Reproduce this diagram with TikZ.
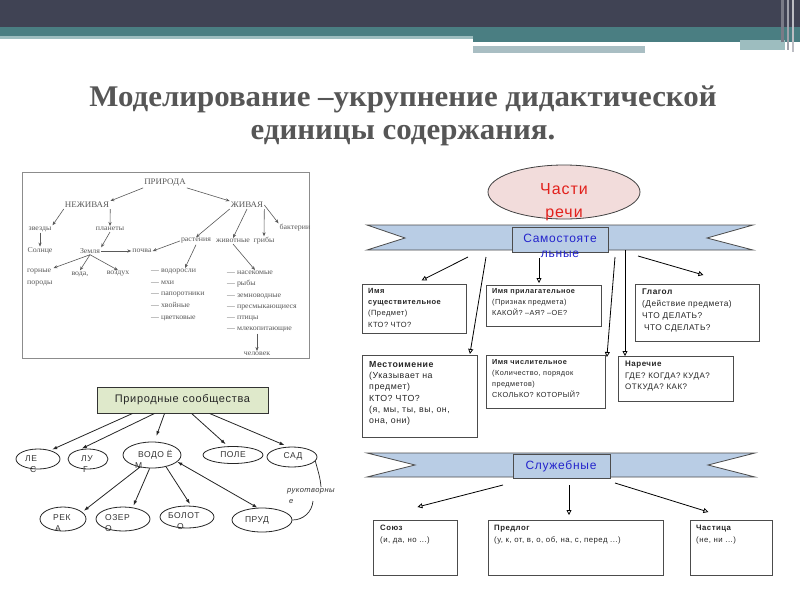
\documentclass[tikz,border=0pt]{standalone}
\usepackage{fontspec}
\setmainfont{Liberation Serif}
\newfontfamily\arl[LetterSpace=6]{Liberation Sans}
\newfontfamily\tms[FakeStretch=1.05]{Liberation Serif}
\newfontfamily\ttl[FakeStretch=1.03]{Liberation Serif}
\usetikzlibrary{arrows.meta,shapes.geometric,calc}
\definecolor{hdark}{HTML}{404354}
\definecolor{hteal}{HTML}{4A7E82}
\definecolor{hlight}{HTML}{9DBDBF}
\definecolor{hgray}{HTML}{A9BEC3}
\definecolor{ribbonc}{HTML}{B9CDE5}
\definecolor{pinkf}{HTML}{F2DCDB}
\definecolor{greenf}{HTML}{DFE9CB}
\definecolor{bluet}{HTML}{2424CC}
\definecolor{redt}{HTML}{E2211C}
\definecolor{treeg}{HTML}{5A5A5A}
\definecolor{titleg}{HTML}{565656}
\begin{document}
\begin{tikzpicture}[x=1pt,y=-1pt,
  tr/.style={font=\tms\fontsize{7.5}{11.6}\selectfont, text=treeg, inner sep=1pt},
  trc/.style={font=\tms\fontsize{8.5}{9}\selectfont, text=treeg, inner sep=1pt},
  tarr/.style={draw=treeg, line width=0.6pt, -{Stealth[length=4pt,width=3.2pt]}},
  ell/.style={ellipse, draw=black!85, line width=0.8pt, inner sep=0pt},
  etx/.style={font=\arl\fontsize{8.5}{11}\selectfont, text=black!80, align=left, inner sep=0pt, anchor=north west},
  etc/.style={font=\arl\fontsize{8.5}{11}\selectfont, text=black!80, inner sep=0pt},
  barr/.style={draw=black!85, line width=0.8pt, -{Latex[length=5pt,width=3.5pt]}},
  bx/.style={draw=black!70, line width=0.9pt, anchor=north west, inner sep=0pt},
  btx/.style={text=black!85, align=left, inner sep=0pt, anchor=north west},
  oarr/.style={draw=black, line width=0.8pt, -{Triangle[open,length=5pt,width=5pt]}},
  rib/.style={fill=ribbonc, draw=black!70, line width=0.8pt}
]
\useasboundingbox (0,0) rectangle (800,600);
\fill[white] (0,0) rectangle (800,600);
% header
\fill[hdark] (0,0) rectangle (800,27);
\fill[hteal] (0,27) rectangle (800,36);
\fill[hteal] (473,36) rectangle (800,42);
\fill[hlight] (0,36) rectangle (473,39);
\fill[hgray] (473,46) rectangle (645,53);
\fill[hlight] (740,40) rectangle (785,50);
\fill[hdark!70!white] (781,0) rectangle (784,42);
\fill[hdark!50!white] (787,0) rectangle (789,50);
\fill[hdark!35!white] (792,0) rectangle (794,52);
% title
\node[font=\ttl\bfseries\fontsize{30}{33}\selectfont, text=titleg, align=center, inner sep=0pt] (title) at (403,116) {Моделирование –укрупнение дидактической\\единицы содержания.};

% ---------- tree (top-left)
\draw[draw=black!45, line width=0.8pt] (22,172) rectangle (309,358);
\node[trc] (P) at (165,183) {ПРИРОДА};
\node[trc] (N) at (87,205) {НЕЖИВАЯ};
\node[trc] (Zh) at (247,205) {ЖИВАЯ};
\node[tr] (zv) at (40,229) {звезды};
\node[tr] (pl) at (110,229) {планеты};
\node[tr] (sol) at (40,251) {Солнце};
\node[tr] (zem) at (90,251) {Земля};
\node[tr] (poch) at (142,251) {почва};
\node[tr] (bak) at (295,228) {бактерии};
\node[tr] (rast) at (196,241) {растения};
\node[tr] (zhiv) at (233,241) {животные};
\node[tr] (grib) at (264,241) {грибы};
\node[tr, align=left, anchor=north west] (gor) at (26,268) {горные\\породы};
\node[tr] (voda) at (80,274) {вода,};
\node[tr] (vozd) at (118,274) {воздух};
\node[tr, align=left, anchor=north west] (plants) at (150,268) {— водоросли\\— мхи\\— папоротники\\— хвойные\\— цветковые};
\node[tr, align=left, anchor=north west, font=\tms\fontsize{7.5}{11.2}\selectfont] (anim) at (226,270) {— насекомые\\— рыбы\\— земноводные\\— пресмыкающиеся\\— птицы\\— млекопитающие};
\node[tr] (chel) at (257,354) {человек};
\draw[tarr] (P.south west) -- (N.north east);
\draw[tarr] (P.south east) -- (Zh.north west);
\draw[tarr] (N.south west) -- (zv.north east);
\draw[tarr] (N.south east) -- (pl.north);
\draw[tarr] (zv.south) -- (zv.south |- sol.north);
\draw[tarr] (pl.south) -- (zem.north east);
\draw[tarr] (zem.east) -- (poch.west);
\draw[tarr] (zem.south) -- (gor.north east);
\draw[tarr] (zem.south) -- (voda.north);
\draw[tarr] (zem.south) -- (vozd.north);
\draw[tarr] (Zh.south west) -- (rast.north);
\draw[tarr] (Zh.south) -- (zhiv.north);
\draw[tarr] (Zh.south east) -- (grib.north);
\draw[tarr] (Zh.east) -- (bak.north west);
\draw[tarr] (rast.south) -- ($(plants.north west)+(35,0)$);
\draw[tarr] (zhiv.south) -- ($(anim.north west)+(29,0)$);
\draw[tarr] (rast.west) -- (poch.east);
\draw[tarr] (anim.south -| chel) -- (chel.north);

% ---------- natural communities (bottom-left)
\node[draw=black!80, fill=greenf, line width=0.9pt, minimum width=171pt, minimum height=26pt, inner sep=0pt, font=\arl\fontsize{11}{12}\selectfont, text=black!85] (ps) at (182.5,400) {Природные сообщества};
\node[ell, minimum width=44pt, minimum height=20pt] (les) at (38,459) {};
\node[ell, minimum width=40pt, minimum height=20pt] (lug) at (88,459) {};
\node[ell, minimum width=58pt, minimum height=26pt] (vod) at (152,455) {};
\node[ell, minimum width=60pt, minimum height=17pt] (pole) at (233,455) {};
\node[ell, minimum width=50pt, minimum height=20pt] (sad) at (292,457) {};
\node[ell, minimum width=46pt, minimum height=24pt] (reka) at (63,519) {};
\node[ell, minimum width=54pt, minimum height=24pt] (ozer) at (123,519) {};
\node[ell, minimum width=54pt, minimum height=22pt] (bol) at (187,517) {};
\node[ell, minimum width=60pt, minimum height=24pt] (prud) at (262,520) {};
\node[etx] (lest) at (25,455) {ЛЕ\\\hspace*{5pt}С};
\node[etx] (lugt) at (81,455) {ЛУ\\\hspace*{2pt}Г};
\node[etx] (vodt) at (138,450) {ВОДО Ё\\\hspace*{-3pt}М};
\node[etc] (polet) at (233,455) {ПОЛЕ};
\node[etc] (sadt) at (293,456) {САД};
\node[etx] (rekat) at (53,514) {РЕК\\\hspace*{2pt}А};
\node[etx] (ozert) at (105,514) {ОЗЕР\\О};
\node[etx] (bolt) at (168,512) {БОЛОТ\\\hspace*{9pt}О};
\node[etc] (prudt) at (257,520) {ПРУД};
\node[etx, font=\arl\itshape\fontsize{7.5}{11}\selectfont] (ruk) at (287,488) {рукотворны\\\hspace*{2pt}е};
\draw[barr, shorten >=2pt] ($(ps.south west)+(36,0)$) -- (les.35);
\draw[barr, shorten >=2pt] ($(ps.south west)+(58,0)$) -- (lug.130);
\draw[barr, shorten >=6pt] ($(ps.south west)+(68,0)$) -- (vod.80);
\draw[barr, shorten >=3pt] ($(ps.south west)+(95,0)$) -- (pole.120);
\draw[barr, shorten >=4pt] ($(ps.south west)+(113,0)$) -- (sad.110);
\draw[barr, shorten >=2pt] (vod.-135) -- (reka.20);
\draw[barr, shorten >=2pt] (vod.-100) -- (ozer.50);
\draw[barr, shorten >=2pt] (vod.-40) -- (bol.70);
\draw[barr, {Latex[length=5pt,width=3.5pt]}-{Latex[length=5pt,width=3.5pt]}] (vod.-15) -- (prud.110);
\coordinate (cu1) at (321,487);
\coordinate (cu2) at (313,501);
\draw[draw=black!85, line width=0.7pt] (sad.-10) to[out=-75, in=95] (cu1);
\draw[draw=black!85, line width=0.7pt] (cu2) to[out=-95, in=0] (prud.east);

% ---------- parts of speech (right)
\node[ellipse, fill=pinkf, draw=black!75, line width=0.8pt, minimum width=152pt, minimum height=54pt, inner sep=0pt] (chr) at (564,192) {};
\node[font=\arl\fontsize{16}{23}\selectfont, text=redt, align=center, inner sep=0pt] (chrt) at (564,202) {Части\\речи};
\path[rib] (367,225) -- (753,225) -- (707,238) -- (753,250) -- (367,250) -- (405,238) -- cycle;
\node[fill=ribbonc, draw=black!70, line width=0.8pt, minimum width=96pt, minimum height=25pt, inner sep=0pt] (samo) at (560,239.5) {};
\node[font=\arl\fontsize{12}{15}\selectfont, text=bluet, align=center, anchor=north, inner sep=0pt] (samot) at (560,234) {Самостояте\\льные};
\path[rib] (367,453) -- (755,453) -- (708,465) -- (755,477) -- (367,477) -- (415,465) -- cycle;
\node[fill=ribbonc, draw=black!70, line width=0.8pt, minimum width=97pt, minimum height=24pt, inner sep=0pt] (sluzh) at (561.5,466) {};
\node[font=\arl\fontsize{12}{15}\selectfont, text=bluet, inner sep=0pt] (sluzht) at (561,466) {Служебные};

\node[bx, minimum width=104pt, minimum height=49pt] (sush) at (362,284) {};
\node[btx, font=\arl\fontsize{7.5}{11.3}\selectfont] (susht) at (368,288) {\textbf{Имя}\\\textbf{существительное}\\(Предмет)\\КТО? ЧТО?};
\node[bx, minimum width=115pt, minimum height=41pt] (adj) at (486,285) {};
\node[btx, font=\arl\fontsize{7.3}{11}\selectfont] (adjt) at (492,288) {\textbf{Имя прилагательное}\\(Признак предмета)\\КАКОЙ? –АЯ? –ОЕ?};
\node[bx, minimum width=115pt, minimum height=82pt] (mest) at (362,355) {};
\node[btx, font=\arl\fontsize{8.8}{11.3}\selectfont] (mestt) at (369,361) {\textbf{Местоимение}\\(Указывает на\\предмет)\\КТО? ЧТО?\\(я, мы, ты, вы, он,\\она, они)};
\node[bx, minimum width=119pt, minimum height=53pt] (num) at (486,355) {};
\node[btx, font=\arl\fontsize{7.3}{11}\selectfont] (numt) at (492,359) {\textbf{Имя числительное}\\(Количество, порядок\\предметов)\\СКОЛЬКО? КОТОРЫЙ?};
\node[bx, minimum width=124pt, minimum height=57pt] (glag) at (635,284) {};
\node[btx, font=\arl\fontsize{8.3}{11.7}\selectfont] (glagt) at (642,289) {\textbf{Глагол}\\(Действие предмета)\\ЧТО ДЕЛАТЬ?\\\hspace*{2pt}ЧТО СДЕЛАТЬ?};
\node[bx, minimum width=115pt, minimum height=45pt] (nar) at (618,356) {};
\node[btx, font=\arl\fontsize{8}{11.5}\selectfont] (nart) at (625,361) {\textbf{Наречие}\\ГДЕ? КОГДА? КУДА?\\ОТКУДА? КАК?};
\node[bx, minimum width=84pt, minimum height=55pt] (soyuz) at (373,520) {};
\node[btx, font=\arl\fontsize{7.8}{12}\selectfont] (soyuzt) at (380,525) {\textbf{Союз}\\(и, да, но ...)};
\node[bx, minimum width=175pt, minimum height=55pt] (predlog) at (488,520) {};
\node[btx, font=\arl\fontsize{7.8}{12}\selectfont] (predlogt) at (494,525) {\textbf{Предлог}\\(у, к, от, в, о, об, на, с, перед ...)};
\node[bx, minimum width=82pt, minimum height=55pt] (chast) at (690,520) {};
\node[btx, font=\arl\fontsize{7.8}{12}\selectfont] (chastt) at (696,525) {\textbf{Частица}\\(не, ни ...)};

\coordinate (a1) at (468,257);
\coordinate (a2) at (486,257);
\coordinate (a3) at (539,258);
\coordinate (a4) at (615,257);
\coordinate (a5) at (625,250);
\coordinate (a6) at (638,256);
\draw[oarr, shorten >=8pt] (a1) -- (sush.north);
\draw[oarr] (a2) -- ($(mest.north east)+(-8,-1)$);
\draw[oarr] (a3) -- ($(a3 |- adj.north)+(0,-2)$);
\draw[oarr] (a4) -- ($(num.north east)+(1,2)$);
\draw[oarr] (a5) -- (a5 |- nar.north);
\draw[oarr] (a6) -- ($(glag.north)+(6,-9)$);
\coordinate (b1) at (503,485);
\coordinate (b2) at (569,485);
\coordinate (b3) at (615,483);
\draw[oarr] (b1) -- ($(soyuz.north)+(2,-13)$);
\draw[oarr] (b2) -- ($(b2 |- predlog.north)+(0,-5)$);
\draw[oarr] (b3) -- ($(chast.north)+(-23,-8)$);
\end{tikzpicture}
\end{document}
